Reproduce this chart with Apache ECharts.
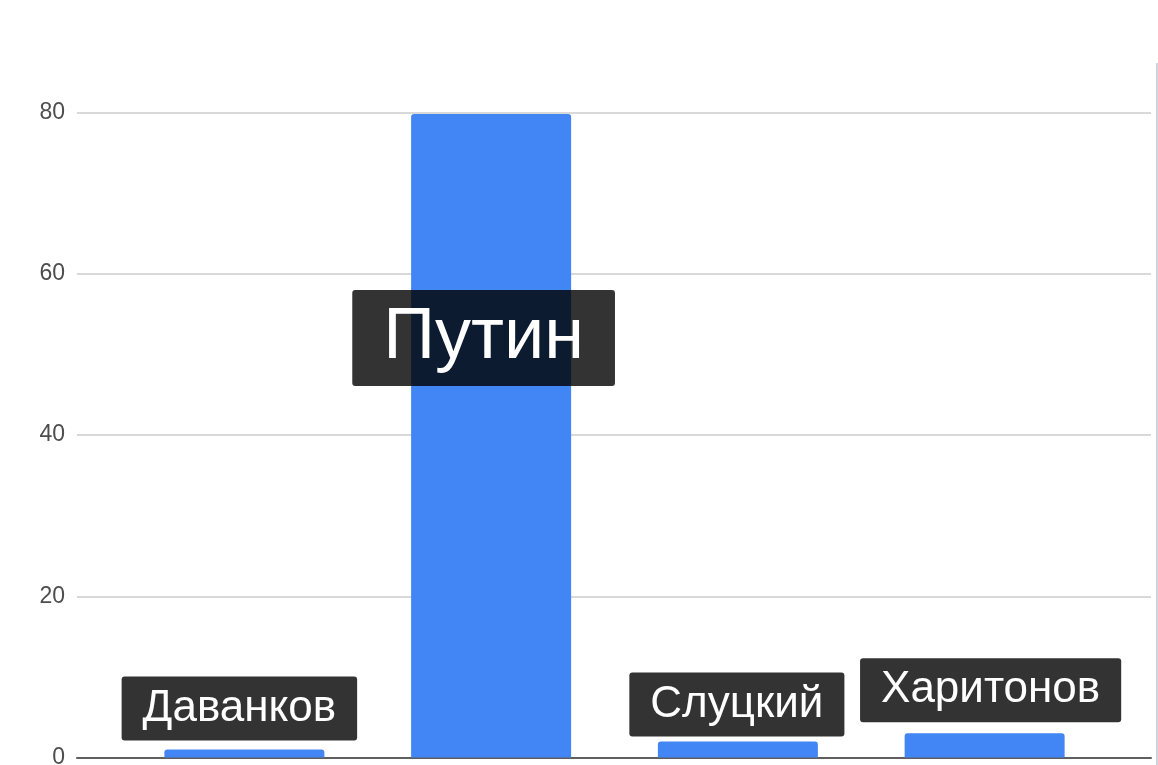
<!DOCTYPE html>
<html>
<head>
<meta charset="utf-8">
<title>Кандидаты</title>
<script src="https://cdn.jsdelivr.net/npm/echarts@6/dist/echarts.min.js"></script>
<style>
  html, body { margin: 0; padding: 0; background: #fff; }
  #main { width: 1158px; height: 765px; }
</style>
</head>
<body>
<div id="main"></div>
<script>
// данные с картинки
const candidates = ['Даванков', 'Путин', 'Слуцкий', 'Харитонов']
const votes = [1, 79.8, 2, 3]
const yTicks = [0, 20, 40, 60, 80]

// сдвиг подписей относительно вершины столбца
const labelShift = [[-5, -9], [-7.5, 272], [-1, -5], [6, -11]]

var myChart = echarts.init(document.getElementById('main'))

const boxStyle = {
  color: '#fff',
  fontFamily: 'Liberation Sans, Arial, sans-serif',
  backgroundColor: 'rgba(0,0,0,0.8)',
  borderRadius: 3
}

const barData = votes.map(function (v, i) {
  const big = i === 1
  return {
    value: v,
    label: Object.assign({}, boxStyle, {
      show: true,
      position: 'top',
      distance: 0,
      offset: labelShift[i],
      fontSize: big ? 72 : 44,
      lineHeight: big ? 80 : 50,
      padding: big ? [8, 31] : [7, 21],
      formatter: candidates[i]
    })
  }
})

const yMin = yTicks[0]
const yMax = yTicks[yTicks.length - 1]

const options = {
  animation: false,
  grid: [
    { left: 77, right: 7, top: 112.5, bottom: 7.5, outerBoundsMode: 'none' },
    { left: 121, right: 50, top: 112.5, bottom: 7.5, outerBoundsMode: 'none' }
  ],
  xAxis: [
    {
      gridIndex: 0,
      type: 'category',
      data: [''],
      axisLine: { show: true, lineStyle: { color: '#5f5f5f', width: 2 } },
      axisTick: { show: false },
      axisLabel: { show: false }
    },
    {
      gridIndex: 1,
      type: 'category',
      data: candidates,
      axisLine: { show: false },
      axisTick: { show: false },
      axisLabel: { show: false }
    }
  ],
  yAxis: [
    {
      gridIndex: 0,
      type: 'value',
      min: yMin,
      max: yMax,
      interval: 20,
      axisLine: { show: false },
      axisTick: { show: false },
      axisLabel: {
        margin: 12,
        fontSize: 23,
        color: '#4d4d4d',
        fontFamily: 'Liberation Sans, Arial, sans-serif'
      },
      splitLine: { lineStyle: { color: '#d9d9d9', width: 2 } }
    },
    {
      gridIndex: 1,
      type: 'value',
      min: yMin,
      max: yMax,
      show: false,
      splitLine: { show: false }
    }
  ],
  series: [
    {
      type: 'bar',
      xAxisIndex: 1,
      yAxisIndex: 1,
      barWidth: 160,
      data: barData,
      itemStyle: { color: '#4285f4', borderRadius: [3, 3, 0, 0] }
    }
  ],
  graphic: [
    {
      type: 'rect',
      right: 0,
      top: 63,
      shape: { width: 2, height: 702 },
      style: { fill: '#cdd5e0' }
    }
  ]
}

myChart.setOption(options)
</script>
</body>
</html>
